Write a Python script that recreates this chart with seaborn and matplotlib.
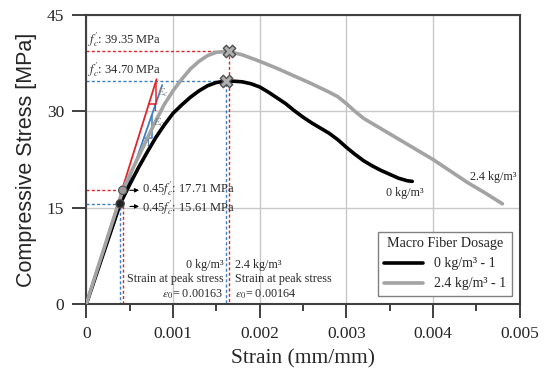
import numpy as np
import pandas as pd
import matplotlib
matplotlib.use('Agg')
import matplotlib.pyplot as plt
import seaborn as sns

# stress-strain curves
strain_0 = [0, 0.0001, 0.0002, 0.0003, 0.00039, 0.0005, 0.0006, 0.0007, 0.0008, 0.0009, 0.001,
            0.0011, 0.0012, 0.0013, 0.0014, 0.0015, 0.00161, 0.0017, 0.0018, 0.0019, 0.002, 0.0021,
            0.0022, 0.0023, 0.0024, 0.0025, 0.0026, 0.0027, 0.0028, 0.0029, 0.003, 0.0031, 0.0032,
            0.0033, 0.0034, 0.0035, 0.0036, 0.0037, 0.00376]
stress_0 = [0, 4.0, 8.0, 12.0, 15.61, 18.6, 21.2, 23.6, 25.9, 27.9, 29.7,
            31.0, 32.2, 33.2, 34.0, 34.5, 34.70, 34.7, 34.6, 34.3, 33.8, 33.0,
            32.1, 31.2, 30.1, 29.1, 28.2, 27.4, 26.6, 25.6, 24.4, 23.3, 22.3,
            21.5, 20.8, 20.2, 19.6, 19.2, 19.1]

strain_24 = [0, 0.0001, 0.0002, 0.0003, 0.00042, 0.0005, 0.0006, 0.0007, 0.0008, 0.0009, 0.001,
             0.0011, 0.0012, 0.0013, 0.0014, 0.0015, 0.00164, 0.0018, 0.002, 0.0022, 0.0024, 0.0026,
             0.0028, 0.0029, 0.003, 0.0031, 0.0032, 0.0034, 0.0036, 0.0038, 0.004, 0.0042, 0.0044,
             0.0046, 0.0048]
stress_24 = [0, 4.3, 8.5, 12.7, 17.71, 20.1, 22.9, 25.7, 28.5, 31.1, 33.2,
             35.0, 36.6, 37.8, 38.7, 39.2, 39.35, 38.8, 37.8, 36.7, 35.5, 34.3,
             33.0, 32.3, 31.2, 30.0, 28.9, 27.3, 25.7, 24.1, 22.5, 20.7, 18.9,
             17.3, 15.6]

series_labels = ['0 kg/m³ - 1', '2.4 kg/m³ - 1']
curve_colors = ['black', '#a3a3a3']
guide_colors = ['#3f7fc4', '#e0252b']

# peak points (f'c) and 0.45 f'c points
peak_strain = [0.00161, 0.00164]
peak_stress = [34.70, 39.35]
p45_strain = [0.00039, 0.00042]
p45_stress = [15.61, 17.71]

# elastic modulus lines (end points) and slope triangles
ec_end_strain = [0.000875, 0.00081]
ec_end_stress = [34.1, 35.0]
tri_x = [[0.000663, 0.000755], [0.00072, 0.0008]]
tri_y = [[25.9, 29.4], [31.1, 34.56]]

xticks = [0, 0.001, 0.002, 0.003, 0.004, 0.005]
xtick_labels = ['0', '0.001', '0.002', '0.003', '0.004', '0.005']
yticks = [0, 15, 30, 45]

df = pd.concat([
    pd.DataFrame({'strain': strain_0, 'stress': stress_0, 'dosage': series_labels[0]}),
    pd.DataFrame({'strain': strain_24, 'stress': stress_24, 'dosage': series_labels[1]}),
])

sns.set_style('ticks')
plt.rcParams['font.family'] = ['Liberation Serif', 'DejaVu Serif']
plt.rcParams['mathtext.fontset'] = 'stix'

fig = plt.figure(figsize=(5.5, 3.86), dpi=100)
ax = fig.add_axes([0.157, 0.2124, 0.788, 0.7486])

ax.grid(True, color='#c8c8c8', lw=1)
ax.set_axisbelow(True)

dash = (0, (2.2, 1.6))
for i in range(2):
    c = guide_colors[i]
    # dashed guides to peak and 0.45 f'c
    ax.plot([0, peak_strain[i], peak_strain[i]], [peak_stress[i], peak_stress[i], 0], color=c, lw=1, ls=dash, zorder=2)
    ax.plot([0, p45_strain[i], p45_strain[i]], [p45_stress[i], p45_stress[i], 0], color=c, lw=1, ls=dash, zorder=2)
    # modulus line + slope triangle
    ax.plot([0, ec_end_strain[i]], [0, ec_end_stress[i]], color=c, lw=1.3, zorder=3)
    ax.plot([tri_x[i][0], tri_x[i][1], tri_x[i][1]], [tri_y[i][0], tri_y[i][0], tri_y[i][1]], color=c, lw=1.1, zorder=3)

sns.lineplot(data=df, x='strain', y='stress', hue='dosage', palette=curve_colors, sort=False,
             estimator=None, lw=2.6, ax=ax, zorder=4)

ax.scatter(peak_strain, peak_stress, marker='X', s=80, c='#b0b0b0', edgecolors='#505050', linewidths=1, zorder=6)
ax.scatter(p45_strain, p45_stress, marker='o', s=36, c=['#222222', '#9a9a9a'], edgecolors='#505050', linewidths=0.8, zorder=6)

# slope labels
ax.text(0.00077, 28.3, '$E_c$', fontsize=8, color='#808080', va='center', zorder=5)
ax.text(0.00068, 25.0, '1', fontsize=7, color='#3f6f9f', va='center', zorder=5)
ax.text(0.00082, 32.9, '$E_c$', fontsize=8, color='#808080', va='center', zorder=5)
ax.text(0.000755, 30.4, '1', fontsize=7, color='#b02020', va='center', zorder=5)

txt = '#2a2a2a'
ax.text(0.00002, 39.7, "$f_c'$: 39.35 MPa", fontsize=9, color=txt, va='bottom')
ax.text(0.00002, 35.0, "$f_c'$: 34.70 MPa", fontsize=9, color=txt, va='bottom')
ax.text(0.00064, 17.9, "0.45$f_c'$: 17.71 MPa", fontsize=9, color=txt, va='center')
ax.text(0.00064, 15.0, "0.45$f_c'$: 15.61 MPa", fontsize=9, color=txt, va='center')
ax.annotate('', xy=(0.00064, 17.71), xytext=(0.00047, 17.71),
            arrowprops=dict(arrowstyle='-|>', color='black', lw=0.8, mutation_scale=6))
ax.annotate('', xy=(0.00064, 15.2), xytext=(0.00047, 15.2),
            arrowprops=dict(arrowstyle='-|>', color='black', lw=0.8, mutation_scale=6))

ax.text(0.00158, 0.4, '0 kg/m³\nStrain at peak stress\n$\\varepsilon_0$= 0.00163', fontsize=8.7,
        color=txt, ha='right', va='bottom', multialignment='right', linespacing=1.25)
ax.text(0.00172, 0.4, '2.4 kg/m³\nStrain at peak stress\n$\\varepsilon_0$= 0.00164', fontsize=8.7,
        color=txt, ha='left', va='bottom', multialignment='left', linespacing=1.25)

ax.text(0.00367, 17.3, '0 kg/m³', fontsize=8.7, color=txt, ha='center', va='center')
ax.text(0.0047, 19.8, '2.4 kg/m³', fontsize=8.7, color=txt, ha='center', va='center')

ax.set_xlim(0, 0.005)
ax.set_ylim(0, 45)
ax.set_xticks(xticks)
ax.set_xticklabels(xtick_labels)
ax.set_xticks(np.arange(0.0005, 0.005, 0.001), minor=True)
ax.set_yticks(yticks)
ax.tick_params(axis='both', which='major', length=10, width=1.4, color='#404040', labelsize=12.5, pad=6)
ax.tick_params(axis='x', which='minor', length=5, width=1.4, color='#404040')
for s in ax.spines.values():
    s.set_color('#404040')
    s.set_linewidth(1.5)

ax.set_xlabel('Strain (mm/mm)', fontsize=15.5, labelpad=5)
ax.set_ylabel('Compressive Stress [MPa]', fontsize=15.5, family=['Liberation Sans', 'DejaVu Sans'], labelpad=7)

leg = ax.legend(title='Macro Fiber Dosage', loc='lower right', bbox_to_anchor=(0.981, 0.028),
                borderaxespad=0, fancybox=False, edgecolor='#808080', fontsize=10, title_fontsize=10.2,
                handlelength=2.8, framealpha=1)
leg.get_frame().set_linewidth(1)

fig.savefig('out.png', dpi=100)
